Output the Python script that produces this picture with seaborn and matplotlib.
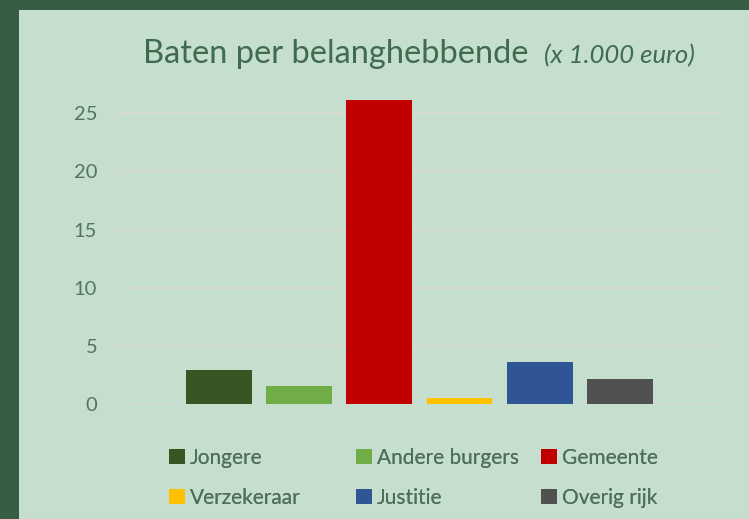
import matplotlib
matplotlib.use("Agg")
import matplotlib.pyplot as plt
import seaborn as sns
import pandas as pd
from matplotlib.patches import Rectangle, Patch

categories = ["Jongere", "Andere burgers", "Gemeente", "Verzekeraar", "Justitie", "Overig rijk"]
values = [2.9, 1.55, 26.1, 0.55, 3.6, 2.15]
colors = ["#375623", "#70AD47", "#C00000", "#FFC000", "#2F5597", "#505050"]
yticks = [0, 5, 10, 15, 20, 25]

sns.set_style("white")
plt.rcParams["font.family"] = ["Lato", "DejaVu Sans"]

W, H = 749, 519
fig = plt.figure(figsize=(W / 100, H / 100), dpi=100)
fig.patch.set_facecolor("#375E42")
fig.patches.append(Rectangle((19 / W, 0), 1 - 19 / W, (H - 10) / H, transform=fig.transFigure,
                             facecolor="#C6DECE", edgecolor="none", zorder=-10))

px = 11.63
ax = fig.add_axes([118 / W, (H - 404) / H, 602 / W, 27 * px / H])
ax.set_facecolor("none")
df = pd.DataFrame({"cat": categories, "val": values})
sns.barplot(data=df, x="cat", y="val", hue="cat", palette=colors, order=categories,
            hue_order=categories, width=0.82, dodge=False, legend=False, ax=ax, zorder=3,
            edgecolor="none", saturation=1)
ax.set_xlim(-1.26, 6.25)
ax.set_ylim(0, 27)
ax.set_yticks(yticks)
ax.set_xticks([])
ax.set_xlabel("")
ax.set_ylabel("")
for s in ax.spines.values():
    s.set_visible(False)
ax.grid(axis="y", color="#D9D9D9", lw=1.3, zorder=0)
ax.set_axisbelow(True)
ax.tick_params(axis="y", length=0, pad=15, labelsize=14.5, labelcolor="#547460")

t1 = fig.text(143 / W, (H - 63) / H, "Baten per belanghebbende", fontsize=23.5,
              color="#3F6B4E", ha="left", va="baseline")
fig.canvas.draw()
ann = plt.annotate("(x 1.000 euro)", xy=(1, 0), xycoords=t1, xytext=(11, 1),
                   textcoords="offset points", fontsize=18.5, style="italic",
                   color="#3F6B4E", ha="left", va="bottom", annotation_clip=False)

handles = [Patch(facecolor=c, edgecolor="none") for c in colors]
cols = [(0, 3), (1, 4), (2, 5)]
xs = [169, 356, 541]
for (i, j), x in zip(cols, xs):
    leg = fig.legend([handles[i], handles[j]], [categories[i], categories[j]],
                     loc="upper left", bbox_to_anchor=(x / W, (H - 448) / H),
                     frameon=False, fontsize=15, handlelength=0.75, handleheight=0.75,
                     handletextpad=0.25, labelspacing=0.95, borderaxespad=0, borderpad=0)
    for t in leg.get_texts():
        t.set_color("#4F6F5A")
    fig.add_artist(leg)

fig.savefig("out.png", dpi=100, facecolor=fig.get_facecolor())
